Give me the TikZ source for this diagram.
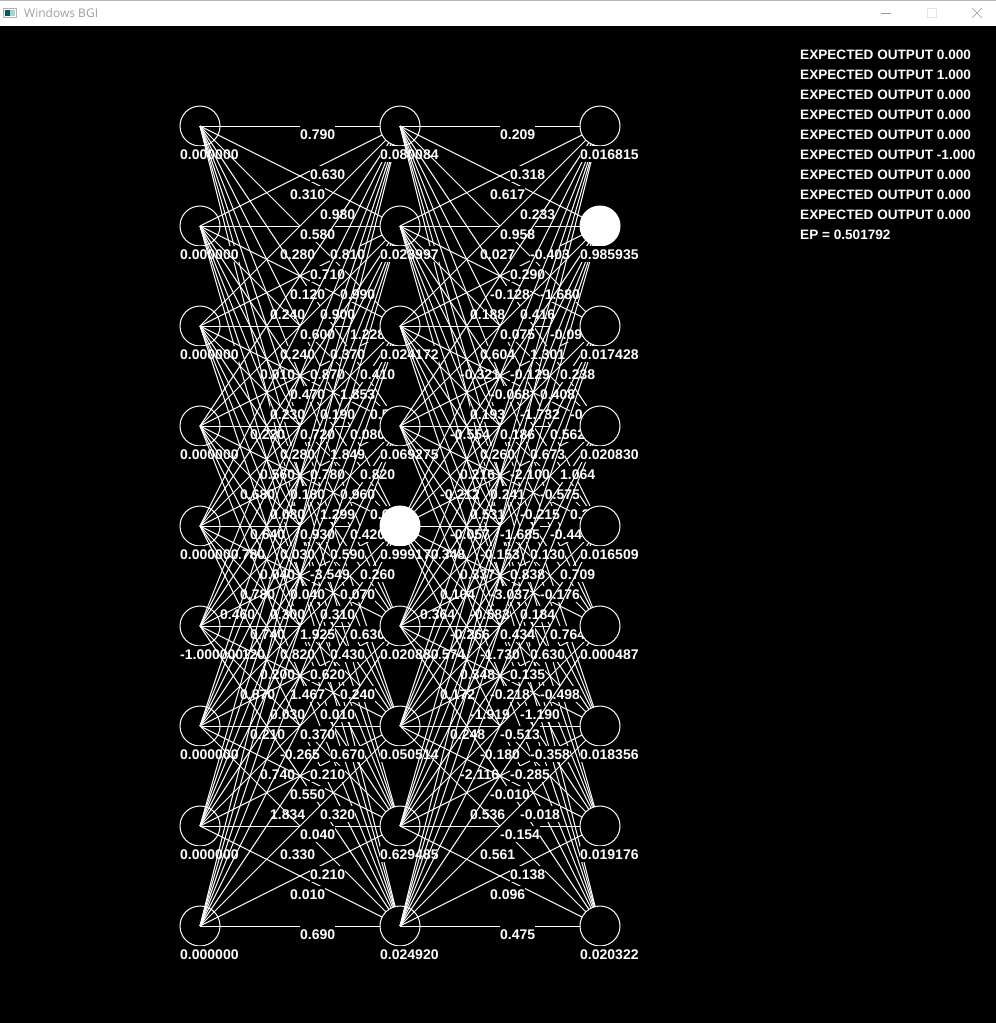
\documentclass[tikz,border=0pt]{standalone}
\usepackage{fontspec}
\setmainfont{Liberation Sans}
\newfontfamily\winfont{Open Sans}
\tikzset{
  neuron/.style = {circle, draw=white, fill=black, line width=1pt,
    minimum size=40pt, inner sep=0pt},
  lit/.style = {neuron, fill=white},
  val/.style = {anchor=north west, inner sep=0pt, fill=black, text=white,
    font=\bfseries\fontsize{14}{14}\selectfont, text height=13pt, text depth=3pt},
  info/.style = {val, font=\bfseries\fontsize{13.6}{14}\selectfont},
  link/.style = {white, line width=1pt}
}
\begin{document}
\begin{tikzpicture}[x=1pt, y=-1pt]
\useasboundingbox (0,0) rectangle (996,1023);
% window frame
\fill[black] (0,26) rectangle (996,1023);
\fill[white] (0,0) rectangle (996,26);
\draw[gray!55] (0,0.5) -- (996,0.5);
\fill[gray!60] (3,8) rectangle (17,18);
\fill[white] (4,9) rectangle (16,17);
\fill[teal!70!black] (5,10) rectangle (10,16);
\fill[teal!35] (10,10) rectangle (15,16);
\node[anchor=west, inner sep=0pt, text=gray!75, font=\winfont\fontsize{12}{12}\selectfont] (title) at (24,13) {Windows BGI};
\draw[gray!80] (881,13.5) -- (891,13.5);
\draw[gray!20] (927.5,8.5) rectangle (936.5,17.5);
\draw[gray!80] (972,8) -- (982,18) (972,18) -- (982,8);

\foreach \l/\x in {1/200, 2/400, 3/600}
  \foreach \i in {0,...,8}
    \coordinate (n\l-\i) at (\x,126+100*\i);

% input layer and first weights
\foreach \i/\v/\st/\row in {
  0/0.000000/neuron/{0.790,0.310,0.280,0.240,0.010,0.220,0.680,0.780,0.460},
  1/0.000000/neuron/{0.630,0.580,0.120,0.240,0.230,0.560,0.640,0.780,0.120},
  2/0.000000/neuron/{0.980,0.710,0.600,0.470,0.280,0.080,0.040,0.740,0.870},
  3/0.000000/neuron/{0.810,0.900,0.870,0.720,0.180,0.030,0.300,0.200,0.210},
  4/0.000000/neuron/{0.990,0.370,0.190,0.780,0.930,0.040,0.820,0.030,0.740},
  5/-1.000000/neuron/{1.228,1.853,1.849,1.299,-3.549,1.925,1.467,-0.265,1.834},
  6/0.000000/neuron/{0.410,0.080,0.960,0.590,0.310,0.620,0.370,0.550,0.330},
  7/0.000000/neuron/{0.500,0.820,0.420,0.070,0.430,0.010,0.210,0.040,0.010},
  8/0.000000/neuron/{0.500,0.600,0.260,0.630,0.240,0.670,0.320,0.210,0.690}}{
  \node[\st] (c1-\i) at (n1-\i) {};
  \node[val] (v1-\i) at ([shift={(-20,20)}]n1-\i) {\v};
  \foreach \w [count=\j from 0] in \row {
    \draw[link] (n1-\i) -- (n2-\j);
    \node[val] (w1-\i-\j) at (300+10*\i-10*\j,126+40*\i+60*\j) {\w};
  }
}

% hidden layer and second weights
\foreach \i/\v/\st/\row in {
  0/0.080084/neuron/{0.209,0.617,0.027,0.188,-0.321,-0.554,-0.212,0.348,0.364},
  1/0.023997/neuron/{0.318,0.958,-0.128,0.604,0.193,0.216,-0.057,0.104,0.574},
  2/0.024172/neuron/{0.233,0.290,0.075,-0.068,0.260,0.531,0.337,-0.266,0.172},
  3/0.069275/neuron/{-0.403,0.416,-0.129,0.186,0.241,-0.153,-0.583,0.348,0.248},
  4/0.999170/lit/{-1.680,1.301,-1.732,-2.100,-1.685,-3.037,-1.730,-1.919,-2.116},
  5/0.020880/neuron/{-0.094,0.408,0.673,-0.215,0.838,0.434,-0.218,-0.180,0.536},
  6/0.050514/neuron/{0.238,0.562,-0.575,0.130,0.184,0.135,-0.513,-0.010,0.561},
  7/0.629485/neuron/{-0.052,1.064,-0.447,-0.176,0.630,-1.190,-0.285,-0.154,0.096},
  8/0.024920/neuron/{0.050,0.312,0.709,0.764,-0.498,-0.358,-0.018,0.138,0.475}}{
  \node[\st] (c2-\i) at (n2-\i) {};
  \node[val] (v2-\i) at ([shift={(-20,20)}]n2-\i) {\v};
  \foreach \w [count=\j from 0] in \row {
    \draw[link] (n2-\i) -- (n3-\j);
    \node[val] (w2-\i-\j) at (500+10*\i-10*\j,126+40*\i+60*\j) {\w};
  }
}

% output layer
\foreach \i/\v/\st in {0/0.016815/neuron, 1/0.985935/lit, 2/0.017428/neuron,
  3/0.020830/neuron, 4/0.016509/neuron, 5/0.000487/neuron,
  6/0.018356/neuron, 7/0.019176/neuron, 8/0.020322/neuron}{
  \node[\st] (c3-\i) at (n3-\i) {};
  \node[val] (v3-\i) at ([shift={(-20,20)}]n3-\i) {\v};
}

% expected outputs
\foreach \k/\e in {0/0.000, 1/1.000, 2/0.000, 3/0.000, 4/0.000,
  5/-1.000, 6/0.000, 7/0.000, 8/0.000}
  \node[info] (exp\k) at (800,46+20*\k) {EXPECTED OUTPUT \e};
\node[info] (ep) at (800,226) {EP = 0.501792};
\end{tikzpicture}
\end{document}
